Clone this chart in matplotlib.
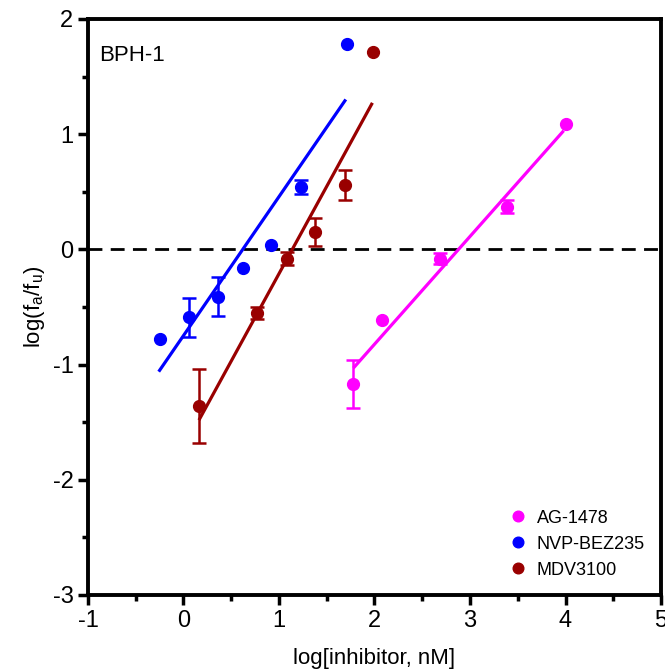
import matplotlib.pyplot as plt
import numpy as np

plt.rcParams['font.family'] = ['Liberation Sans', 'DejaVu Sans']
plt.rcParams['axes.unicode_minus'] = False

# ── data ────────────────────────────────────────────────────────────────────
ag_x = [1.78, 2.08, 2.69, 3.39, 4.00]
ag_y = [-1.17, -0.61, -0.08, 0.37, 1.09]
ag_err = [0.21, 0.0, 0.05, 0.055, 0.0]
ag_fit_x = [1.79, 3.97]
ag_fit_y = [-1.02, 1.02]

nvp_x = [-0.25, 0.06, 0.36, 0.62, 0.92, 1.23, 1.71]
nvp_y = [-0.78, -0.59, -0.41, -0.165, 0.035, 0.54, 1.78]
nvp_err = [0.0, 0.17, 0.17, 0.0, 0.0, 0.06, 0.0]
nvp_fit_x = [-0.25, 1.69]
nvp_fit_y = [-1.05, 1.29]

mdv_x = [0.16, 0.77, 1.08, 1.38, 1.69, 1.98]
mdv_y = [-1.36, -0.55, -0.08, 0.15, 0.56, 1.71]
mdv_err = [0.32, 0.05, 0.055, 0.12, 0.13, 0.0]
mdv_fit_x = [0.17, 1.97]
mdv_fit_y = [-1.47, 1.26]

series = [
    ("AG-1478", ag_x, ag_y, ag_err, ag_fit_x, ag_fit_y, "#ff00ff"),
    ("NVP-BEZ235", nvp_x, nvp_y, nvp_err, nvp_fit_x, nvp_fit_y, "#0000ff"),
    ("MDV3100", mdv_x, mdv_y, mdv_err, mdv_fit_x, mdv_fit_y, "#990000"),
]

fig = plt.figure(figsize=(6.65, 6.71), dpi=100)
ax = fig.add_axes([0.1323, 0.1133, 0.8617, 0.8584])

ax.axhline(0, color="black", lw=2, ls=(0, (5, 3)), zorder=1)

for name, x, y, err, fx, fy, col in series:
    x, y, err = np.array(x), np.array(y), np.array(err)
    ax.plot(fx, fy, color=col, lw=2.3, zorder=2)
    has = err > 0
    # error bars only where the reference shows them
    ax.errorbar(x[has], y[has], yerr=err[has], fmt="none", ecolor=col,
                capsize=5, elinewidth=1.8, capthick=1.8, zorder=3)
    ax.plot(x, y, "o", color=col, ms=8.5, label=name, zorder=4)

ax.set_xlim(-1, 5)
ax.set_ylim(-3, 2)
ax.set_xticks(range(-1, 6))
ax.set_yticks(range(-3, 3))
ax.set_xticks(np.arange(-0.5, 5, 1), minor=True)
ax.set_yticks(np.arange(-2.5, 2, 1), minor=True)
for s in ax.spines.values():
    s.set_linewidth(2.8)
ax.tick_params(which="major", direction="out", length=7, width=2.5, labelsize=17)
ax.tick_params(which="minor", direction="out", length=4, width=2.5)

ax.set_xlabel("log[inhibitor, nM]", fontsize=16, labelpad=12)
ax.set_ylabel(r"log(f$_\mathregular{a}$/f$_\mathregular{u}$)", fontsize=16, labelpad=4)

ax.text(0.02, 0.955, "BPH-1", transform=ax.transAxes, fontsize=16, va="top", ha="left")

ax.legend(loc="lower right", frameon=False, fontsize=13,
          handletextpad=0.3, handlelength=1.5, markerscale=0.9,
          bbox_to_anchor=(1.0, 0.0), labelspacing=0.5)

fig.savefig("out.png", dpi=100)
